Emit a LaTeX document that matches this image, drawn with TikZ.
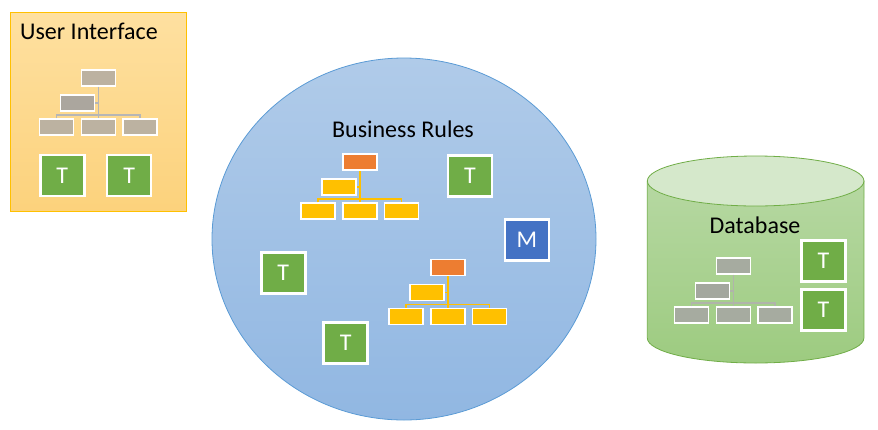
\documentclass[tikz,border=0pt]{standalone}
\usepackage{fontspec}
\setmainfont{Carlito}
\definecolor{tgreen}{RGB}{112,173,71}
\definecolor{mblue}{RGB}{68,114,196}
\definecolor{orgorange}{RGB}{237,125,49}
\definecolor{orgyellow}{RGB}{255,192,0}
\definecolor{uigray}{RGB}{188,178,161}
\definecolor{uigrayA}{RGB}{171,166,158}
\definecolor{uiline}{RGB}{182,182,182}
\definecolor{dbgray}{RGB}{166,171,160}
\definecolor{dbgrayA}{RGB}{163,167,158}
\definecolor{dbline}{RGB}{176,180,170}
\definecolor{uitop}{RGB}{254,224,160}
\definecolor{uibot}{RGB}{252,210,124}
\definecolor{uiborder}{RGB}{255,192,0}
\definecolor{ctop}{RGB}{176,203,233}
\definecolor{cbot}{RGB}{145,183,226}
\definecolor{cborder}{RGB}{91,155,213}
\definecolor{dbtop}{RGB}{182,216,162}
\definecolor{dbbot}{RGB}{157,203,128}
\definecolor{dbcap}{RGB}{213,232,203}
\definecolor{dbborder}{RGB}{112,173,71}
\tikzset{
  tbox/.style={draw=white, line width=2.5pt, fill=tgreen, inner sep=0pt,
    minimum width=44pt, minimum height=41pt, text=white, font=\fontsize{24}{26}\selectfont},
  obox/.style={draw=white, line width=1.5pt, inner sep=0pt, minimum width=34pt, minimum height=16pt},
  conn/.style={line width=1.6pt},
  title/.style={font=\fontsize{24}{26}\selectfont, inner sep=0pt, text=black}
}
\newcommand\orgchart[7]{%
  \coordinate (#1h) at (#2,#3+37);
  \node[obox, fill=#4] (#1t) at (#2,#3) {};
  \node[obox, fill=#6] (#1a) at (#2-21,#3+25) {};
  \node[obox, fill=#5] (#1l) at (#2-42,#3+49) {};
  \node[obox, fill=#5] (#1m) at (#2,#3+49) {};
  \node[obox, fill=#5] (#1r) at (#2+41.5,#3+49) {};
  \draw[conn, draw=#7] (#1t.south) -- (#1m.north);
  \draw[conn, draw=#7] (#1l.north) |- (#1h) -| (#1r.north);
  \draw[conn, draw=#7] (#1a.east) -- (#1a.east -| #1t.south);
}
\begin{document}
\begin{tikzpicture}[x=1pt,y=-1pt]
\useasboundingbox (0,0) rectangle (878,429);
% User interface panel
\draw[draw=uiborder, line width=1pt, top color=uitop, bottom color=uibot] (10,12.5) rectangle (186,211);
\node[title, anchor=base west] (uititle) at (20,39.5) {User Interface};
\orgchart{ui}{98.3}{77.8}{uigray}{uigray}{uigrayA}{uiline}
\node[tbox] (uiT1) at (62.3,175.7) {T};
\node[tbox] (uiT2) at (129.2,175.7) {T};
% Business rules
\draw[draw=cborder, line width=0.8pt, top color=ctop, bottom color=cbot] (404,239) ellipse [x radius=192, y radius=181];
\node[title, anchor=base] (brtitle) at (403,137) {Business Rules};
\orgchart{bA}{360}{162}{orgorange}{orgyellow}{orgyellow}{orgyellow}
\orgchart{bB}{448}{267.5}{orgorange}{orgyellow}{orgyellow}{orgyellow}
\node[tbox] (brT1) at (470,175.8) {T};
\node[tbox, fill=mblue] (brM) at (527,240) {M};
\node[tbox] (brT2) at (283.3,273) {T};
\node[tbox] (brT3) at (345.7,343) {T};
% Database cylinder
\draw[draw=dbborder, line width=0.8pt, top color=dbtop, bottom color=dbbot]
  (647.3,181) -- (647.3,338) arc[start angle=180, end angle=0, x radius=108.3, y radius=25] -- (864,181) -- cycle;
\draw[draw=dbborder, line width=0.8pt, fill=dbcap] (755.65,181) ellipse [x radius=108.3, y radius=25];
\node[title, anchor=base] (dbtitle) at (755,233) {Database};
\orgchart{db}{733.5}{265.8}{dbgray}{dbgray}{dbgrayA}{dbline}
\node[tbox] (dbT1) at (823.5,260.8) {T};
\node[tbox] (dbT2) at (823.5,310) {T};
\end{tikzpicture}
\end{document}
